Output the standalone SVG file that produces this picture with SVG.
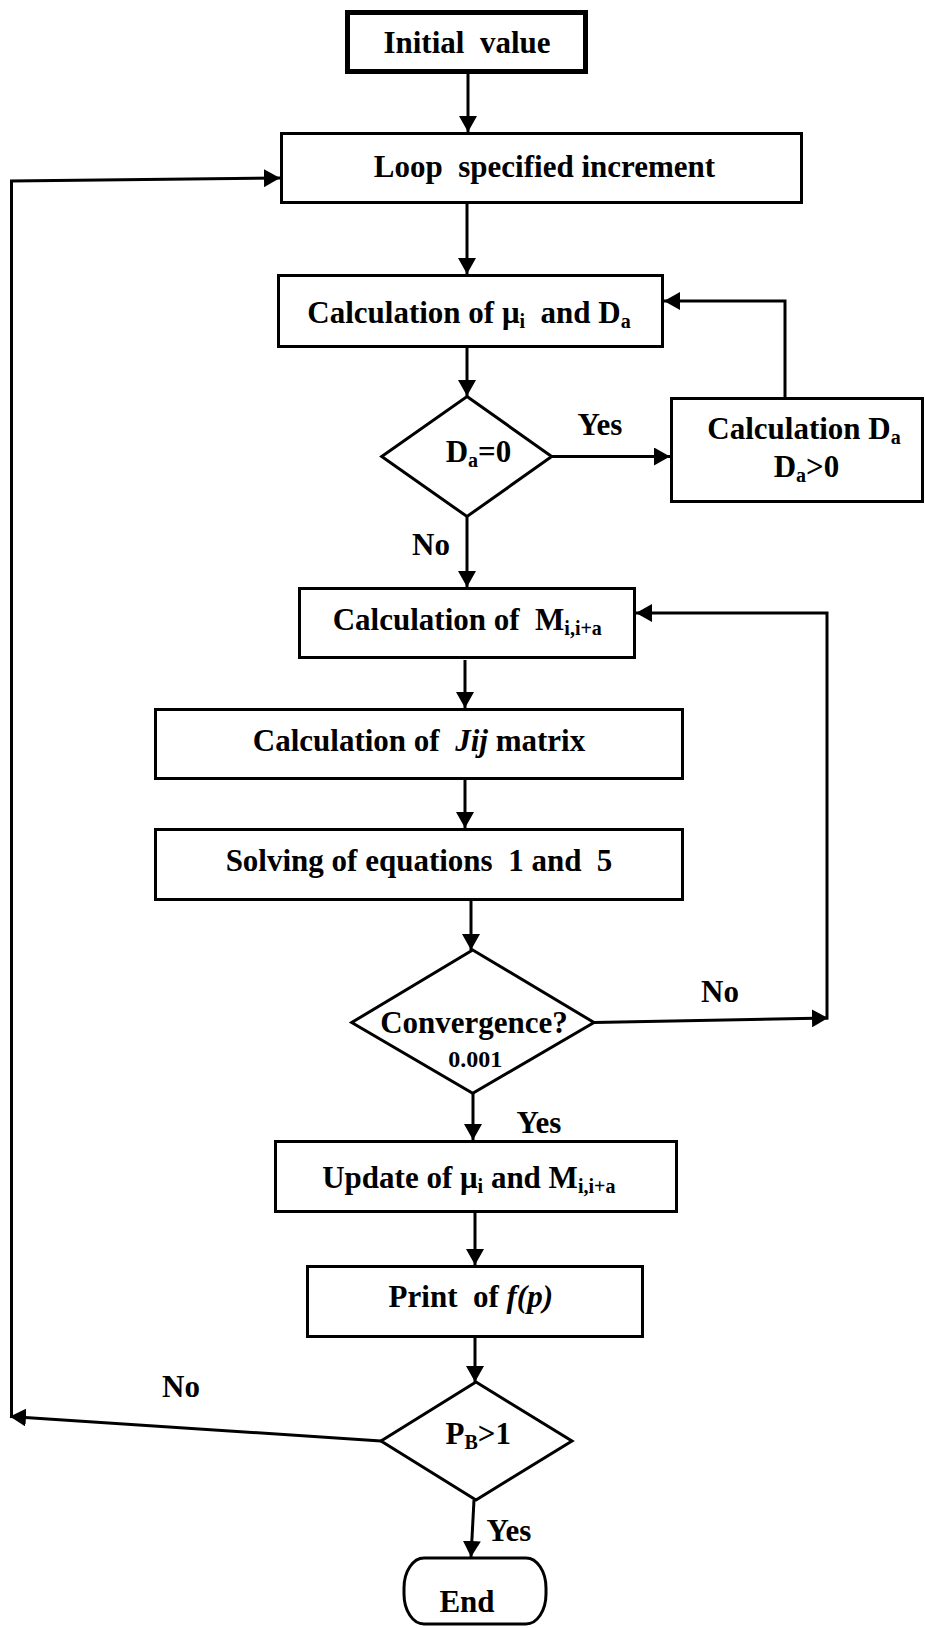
<svg xmlns="http://www.w3.org/2000/svg" width="925" height="1628" viewBox="0 0 925 1628">
<style>
.box{fill:#fff;stroke:#000;stroke-width:3}
.thick{stroke-width:5}
.t{font-family:"Liberation Serif","Times New Roman",serif;font-weight:bold;font-size:31px;fill:#000;text-anchor:middle;white-space:pre}
.s{font-size:20px}
.i{font-style:italic}
.c{fill:none;stroke:#000;stroke-width:3}
.ca{fill:none;stroke:#000;stroke-width:3;marker-end:url(#ah)}
</style>
<defs>
<marker id="ah" viewBox="0 0 16 18" refX="16" refY="9" markerWidth="16" markerHeight="18" markerUnits="userSpaceOnUse" orient="auto"><path d="M0,0 L16,9 L0,18 z" fill="#000"/></marker>
</defs>
<rect width="925" height="1628" fill="#fff"/>
<g id="connectors">
<path class="ca" d="M468,74 L468,132"/>
<path class="ca" d="M467,204 L467,274"/>
<path class="ca" d="M467,348 L467,396"/>
<path class="ca" d="M552,456.5 L670,456.5"/>
<path class="ca" d="M785,397 L785,301 L664,301"/>
<path class="ca" d="M467,516.5 L467,587"/>
<path class="ca" d="M465,660 L465,708"/>
<path class="ca" d="M465,780 L465,828"/>
<path class="ca" d="M471,901 L471,950"/>
<path class="ca" d="M594,1022.5 L828,1018"/>
<path class="ca" d="M827,1019.5 L827,613 L636,613"/>
<path class="ca" d="M473,1093 L473,1140"/>
<path class="ca" d="M475,1213 L475,1265"/>
<path class="ca" d="M475,1338 L475,1382"/>
<path class="ca" d="M381,1441 L10,1416.5"/>
<path class="ca" d="M11.5,1418 L11.5,181 L280,178"/>
<path class="ca" d="M474,1500 L471,1557"/>
<text class="t" x="600" y="435">Yes</text>
<text class="t" x="431" y="555">No</text>
<text class="t" x="720" y="1001.7">No</text>
<text class="t" x="539" y="1133">Yes</text>
<text class="t" x="181" y="1397">No</text>
<text class="t" x="509" y="1540.7">Yes</text>
</g>
<g id="initial">
<rect class="box thick" x="347.5" y="12.5" width="238" height="59"/>
<text class="t" x="467" y="53.3">Initial  value</text>
</g>
<g id="loop">
<rect class="box" x="281.5" y="133.5" width="520" height="69"/>
<text class="t" x="544.5" y="176.7">Loop  specified increment</text>
</g>
<g id="calc-mu">
<rect class="box" x="278.5" y="275.5" width="384" height="71"/>
<text class="t" x="469" y="323.3">Calculation of μ<tspan class="s" dy="5">i</tspan><tspan dy="-5">  and D</tspan><tspan class="s" dy="5">a</tspan></text>
</g>
<g id="da-zero">
<polygon class="box" points="467,396.5 551.7,456.5 467,516.5 381.7,456.5"/>
<text class="t" x="478.5" y="461.7">D<tspan class="s" dy="5">a</tspan><tspan dy="-5">=0</tspan></text>
</g>
<g id="calc-da">
<rect class="box" x="671.5" y="398.5" width="251" height="103"/>
<text class="t" x="804" y="439.3">Calculation D<tspan class="s" dy="5">a</tspan></text>
<text class="t" x="806.5" y="476.7">D<tspan class="s" dy="5">a</tspan><tspan dy="-5">&gt;0</tspan></text>
</g>
<g id="calc-m">
<rect class="box" x="299.5" y="588.5" width="335" height="69"/>
<text class="t" x="467.3" y="630">Calculation of  M<tspan class="s" dy="5">i,i+a</tspan></text>
</g>
<g id="calc-jij">
<rect class="box" x="155.5" y="709.5" width="527" height="69"/>
<text class="t" x="419" y="750.7">Calculation of  <tspan class="i">Jij</tspan> matrix</text>
</g>
<g id="solving">
<rect class="box" x="155.5" y="829.5" width="527" height="70"/>
<text class="t" x="419" y="870.7">Solving of equations  1 and  5</text>
</g>
<g id="convergence">
<polygon class="box" points="472.7,950 594,1022.5 472.7,1093.3 351.7,1022.5"/>
<text class="t" x="474" y="1033">Convergence?</text>
<text class="t" x="475.3" y="1066.7" style="font-size:24px">0.001</text>
</g>
<g id="update">
<rect class="box" x="275.5" y="1141.5" width="401" height="70"/>
<text class="t" x="468.8" y="1188.3">Update of μ<tspan class="s" dy="5">i</tspan><tspan dy="-5"> and M</tspan><tspan class="s" dy="5">i,i+a</tspan></text>
</g>
<g id="print">
<rect class="box" x="307.5" y="1266.5" width="335" height="70"/>
<text class="t" x="470.8" y="1307.3">Print  of <tspan class="i">f(p)</tspan></text>
</g>
<g id="pb">
<polygon class="box" points="476,1382 572,1441 476,1500 381,1441"/>
<text class="t" x="478.3" y="1444">P<tspan class="s" dy="5">B</tspan><tspan dy="-5">&gt;1</tspan></text>
</g>
<g id="end">
<rect class="box" x="404" y="1558" width="142" height="66" rx="20" ry="30"/>
<text class="t" x="467" y="1611.7">End</text>
</g>
</svg>
